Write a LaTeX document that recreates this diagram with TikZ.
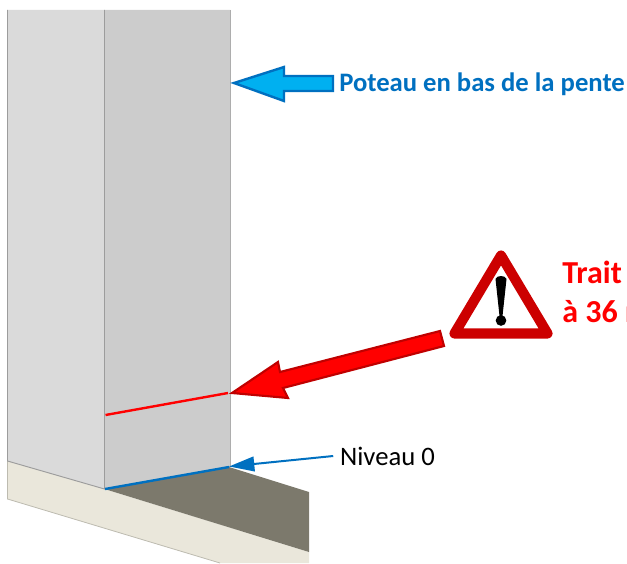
\documentclass[tikz,border=0pt]{standalone}
\usepackage{fontspec}
\setmainfont{Carlito}
\usetikzlibrary{arrows.meta}
\definecolor{faceleft}{HTML}{DADADA}
\definecolor{faceright}{HTML}{CCCCCC}
\definecolor{edgegray}{HTML}{9C9C9C}
\definecolor{slabcream}{HTML}{EAE7DB}
\definecolor{slabedge}{HTML}{BDBBB0}
\definecolor{floordark}{HTML}{7C796C}
\definecolor{lineblue}{HTML}{0070C0}
\definecolor{fillblue}{HTML}{00B0F0}
\definecolor{signred}{HTML}{CC0000}
\definecolor{arrowred}{HTML}{C00000}
\tikzset{
  labeltext/.style={inner sep=0pt, anchor=base west},
  bluetext/.style={labeltext, font=\fontsize{20pt}{24pt}\selectfont\bfseries, text=lineblue},
  redtext/.style={labeltext, font=\fontsize{24pt}{29pt}\selectfont\bfseries, text=red},
  niveautext/.style={font=\fontsize{20pt}{24pt}\selectfont, inner sep=5pt}
}
\begin{document}
\begin{tikzpicture}[x=0.75pt,y=-0.75pt]
    \useasboundingbox (0,0) rectangle (627,563);
    \clip (0,0) rectangle (627,563);

    % Slab
    \fill[slabcream] (7.5,461) -- (104.5,489) -- (309,552) -- (309,563) -- (220,563) -- (7.5,499) -- cycle;
    \draw[slabedge,line width=0.6pt] (7.5,461) -- (7.5,499) -- (220,563);
    \fill[floordark] (104.5,489) -- (229,467) -- (309,492) -- (309,552) -- cycle;

    % Post
    \fill[faceleft] (7.5,10) -- (104.5,10) -- (104.5,489) -- (7.5,461) -- cycle;
    \fill[faceright] (104.5,10) -- (230,10) -- (230,467) -- (104.5,489) -- cycle;
    \draw[edgegray,line width=0.7pt] (7.5,10) -- (7.5,461) -- (104.5,489) -- (104.5,10);
    \draw[faceright!85!black,line width=0.7pt] (230,10) -- (230,467);

    % Level lines
    \draw[red,line width=1.8pt] (105.5,415) -- (228,393);
    \draw[lineblue,line width=1.8pt] (105,489) -- (229,467);

    % Blue arrow
    \filldraw[fill=fillblue,draw=lineblue,line width=1.8pt,line join=miter]
      (234,83) -- (284,67) -- (284,76) -- (333,76) -- (333,91) -- (284,91) -- (284,101) -- cycle;
    \node[bluetext] (poteau) at (339,92) {Poteau en bas de la pente};

    % Red arrow
    \filldraw[fill=red,draw=arrowred,line width=1.6pt,line join=miter]
      (232,393) -- (278,362) -- (280,372) -- (440,331) -- (444,346) -- (283,388) -- (288,398) -- cycle;

    % Warning sign
    \filldraw[fill=white,draw=signred,line width=7.6pt,line join=round]
      (501,255.5) -- (454.5,333.5) -- (547.5,333.5) -- cycle;
    \fill[black] (495.5,279) .. controls (496.5,275) and (505.5,275) .. (506.5,279) -- (502.5,316) -- (499.5,316) -- cycle;
    \fill[black] (501,320.5) circle (4pt);
    \node[redtext] (trait) at (562,283) {Trait};
    \node[redtext] (distance) at (562,322) {à 36 m};

    % Level label
    \coordinate (pied) at (229,466.5);
    \node[niveautext] (niveau) at (387.5,456) {Niveau 0};
    \draw[lineblue,line width=1.5pt,-{Triangle[length=19pt,width=11pt]}] (niveau.west) -- (pied);
\end{tikzpicture}
\end{document}
